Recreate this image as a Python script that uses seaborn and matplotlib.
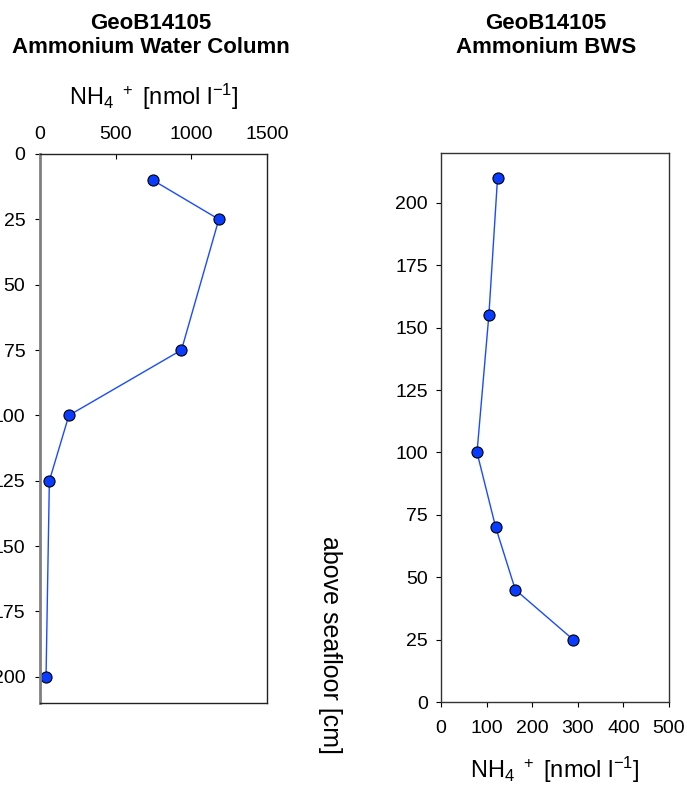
import matplotlib
matplotlib.use("Agg")
import matplotlib.pyplot as plt
import seaborn as sns
import pandas as pd

# Water column data
wc_depth = [10, 25, 75, 100, 125, 200]
wc_nh4 = [745, 1182, 935, 191, 62, 40]

# Bottom water sampler data
bws_height = [210, 155, 100, 70, 45, 25]
bws_nh4 = [124, 105, 79, 120, 163, 290]

sns.set_theme(style="white")
plt.rcParams['font.family'] = ['Liberation Sans', 'DejaVu Sans']
plt.rcParams['mathtext.fontset'] = 'custom'
plt.rcParams['mathtext.rm'] = 'Liberation Sans'
plt.rcParams['mathtext.it'] = 'Liberation Sans'
plt.rcParams['text.color'] = 'black'
plt.rcParams['axes.labelcolor'] = 'black'

fig = plt.figure(figsize=(6.87, 7.85), dpi=100)
ax1 = fig.add_axes([0.0582, 0.1045, 0.3304, 0.6994])
ax2 = fig.add_axes([0.6419, 0.1057, 0.3319, 0.6994])

line_col = "#1a4bff"
mk_col = "#0a3cff"

df1 = pd.DataFrame({"depth": wc_depth, "nh4": wc_nh4})
df2 = pd.DataFrame({"height": bws_height, "nh4": bws_nh4})

sns.lineplot(data=df1, x="nh4", y="depth", sort=False, estimator=None, ax=ax1,
             color=line_col, lw=1, marker="o", markersize=8,
             markerfacecolor=mk_col, markeredgecolor="black", markeredgewidth=0.8)
sns.lineplot(data=df2, x="nh4", y="height", sort=False, estimator=None, ax=ax2,
             color=line_col, lw=1, marker="o", markersize=8,
             markerfacecolor=mk_col, markeredgecolor="black", markeredgewidth=0.8)

xlabel = r"NH$_4$ $^+$ [nmol l$^{\mathregular{-}1}$]"

# Left panel
ax1.set_xlim(0, 1500)
ax1.set_ylim(210, 0)
ax1.set_xticks([0, 500, 1000, 1500])
ax1.set_yticks(range(0, 201, 25))
ax1.xaxis.tick_top()
ax1.xaxis.set_label_position("top")
ax1.set_xlabel(xlabel, fontsize=17, labelpad=15)
ax1.set_ylabel("")
ax1.tick_params(axis="x", direction="in", length=3.6, width=0.8, colors="black",
                labelsize=14, pad=8, top=True, bottom=False)
ax1.tick_params(axis="y", direction="out", length=3.6, width=0.8, colors="black",
                labelsize=14, pad=7, left=True)
for s in ["top", "right", "bottom"]:
    ax1.spines[s].set_color("#222222")
    ax1.spines[s].set_linewidth(1)
ax1.spines["left"].set_color("#808080")
ax1.spines["left"].set_linewidth(2)

# Right panel
ax2.set_xlim(0, 500)
ax2.set_ylim(0, 220)
ax2.set_xticks(range(0, 501, 100))
ax2.set_yticks(range(0, 201, 25))
ax2.set_xlabel(xlabel, fontsize=17, labelpad=13)
ax2.set_ylabel("")
ax2.tick_params(axis="both", direction="out", length=3.6, width=0.8, colors="black",
                labelsize=14, bottom=True, left=True)
ax2.tick_params(axis="x", pad=9)
ax2.tick_params(axis="y", pad=6)
for s in ["top", "right", "bottom", "left"]:
    ax2.spines[s].set_color("#333333")
    ax2.spines[s].set_linewidth(1)

fig.text(0.480, 0.178, "above seafloor [cm]", rotation=270, fontsize=18,
         ha="center", va="center")

fig.text(0.220, 0.955, "GeoB14105\nAmmonium Water Column", fontsize=16,
         fontweight="bold", ha="center", va="center", linespacing=1.2)
fig.text(0.795, 0.955, "GeoB14105\nAmmonium BWS", fontsize=16,
         fontweight="bold", ha="center", va="center", linespacing=1.2)

fig.savefig("out.png", dpi=100)
